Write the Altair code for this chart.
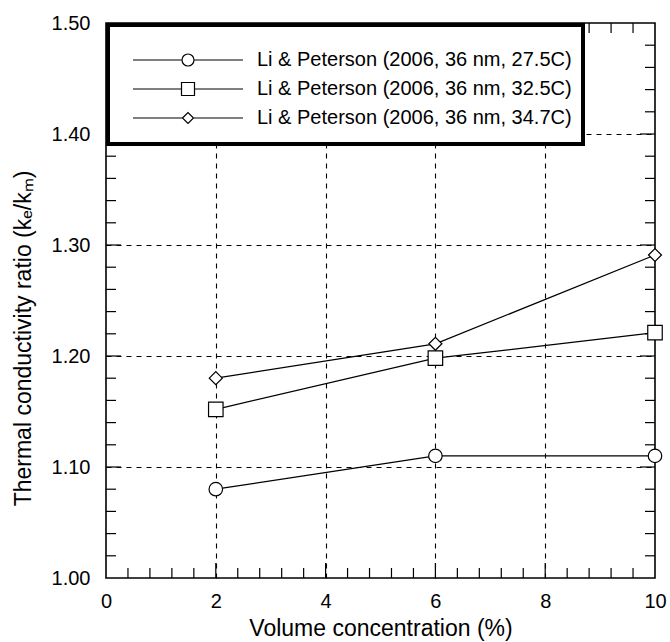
import altair as alt
import pandas as pd

# ---- data ----
conc = [2, 6, 10]
series_names = [
    "Li & Peterson (2006, 36 nm, 27.5C)",
    "Li & Peterson (2006, 36 nm, 32.5C)",
    "Li & Peterson (2006, 36 nm, 34.7C)",
]
ratio_275 = [1.08, 1.11, 1.11]
ratio_325 = [1.152, 1.198, 1.221]
ratio_347 = [1.18, 1.211, 1.291]

x_labels = [0, 2, 4, 6, 8, 10]
y_labels = [1.00, 1.10, 1.20, 1.30, 1.40, 1.50]
x_major_ticks = [2, 4, 6, 8]
x_minor_ticks = [0.4, 0.8, 1.2, 1.6, 2.4, 2.8, 3.2, 3.6, 4.4, 4.8, 5.2, 5.6,
                 6.4, 6.8, 7.2, 7.6, 8.4, 8.8, 9.2, 9.6]
y_major_ticks = [1.10, 1.20, 1.30, 1.40]
y_minor_ticks = [1.02, 1.04, 1.06, 1.08, 1.12, 1.14, 1.16, 1.18, 1.22, 1.24,
                 1.26, 1.28, 1.32, 1.34, 1.36, 1.38, 1.42, 1.44, 1.46, 1.48]

rows = []
for name, vals in zip(series_names, [ratio_275, ratio_325, ratio_347]):
    for c, v in zip(conc, vals):
        rows.append({"series": name, "conc": c, "ratio": v})
df = pd.DataFrame(rows)

W, H = 549, 555
FONT = "Liberation Sans"
MAJ, MIN = 15, 10

xs = alt.Scale(domain=[0, 10], nice=False, zero=False)
ys = alt.Scale(domain=[1.0, 1.5], nice=False, zero=False)

# marker shapes (unit paths, scaled by the mark size)
marker_paths = [
    "M1.35,0A1.35,1.35,0,1,1,-1.35,0A1.35,1.35,0,1,1,1.35,0Z",
    "M-1.45,-1.45L1.45,-1.45L1.45,1.45L-1.45,1.45Z",
    "M-1.3,0L0,-1.3L1.3,0L0,1.3Z",
]
legend_paths = [
    "M-11,0L-1.2,0M1.2,0L11,0M1.2,0A1.2,1.2,0,1,1,-1.2,0A1.2,1.2,0,1,1,1.2,0Z",
    "M-11,0L-1.3,0M1.3,0L11,0M-1.3,-1.3L1.3,-1.3L1.3,1.3L-1.3,1.3Z",
    "M-11,0L-1.1,0M1.1,0L11,0M-1.1,0L0,-1.1L1.1,0L0,1.1Z",
]

x_axis = alt.Axis(values=x_labels, format="d", title="Volume concentration (%)",
                  grid=True, gridDash=[5, 5], gridColor="black", gridWidth=1.1,
                  gridOpacity=alt.condition("datum.value == 0 || datum.value == 10",
                                            alt.value(0), alt.value(1)),
                  ticks=False, domain=False, labelFlush=False,
                  labelOverlap=False, labelFont=FONT, labelFontSize=20,
                  labelColor="black", labelPadding=13, titleFont=FONT,
                  titleFontSize=23, titleFontWeight="normal", titleColor="black",
                  titlePadding=6)
y_axis = alt.Axis(values=y_labels, format=".2f",
                  title="Thermal conductivity ratio (kₑ/kₘ)",
                  grid=True, gridDash=[5, 5], gridColor="black", gridWidth=1.1,
                  gridOpacity=alt.condition("datum.value <= 1.0 || datum.value >= 1.5",
                                            alt.value(0), alt.value(1)),
                  ticks=False, domain=False, labelFlush=False,
                  labelOverlap=False, labelFont=FONT, labelFontSize=20,
                  labelColor="black", labelPadding=16, titleFont=FONT,
                  titleFontSize=23, titleFontWeight="normal", titleColor="black",
                  titlePadding=16, titleY=315)


def xticks(vals, y0, y1):
    return alt.Chart(pd.DataFrame({"v": vals})).mark_rule(
        color="black", strokeWidth=1.2
    ).encode(x=alt.X("v:Q", scale=xs, axis=x_axis), y=alt.value(y0), y2=alt.value(y1))


def yticks(vals, x0, x1):
    return alt.Chart(pd.DataFrame({"v": vals})).mark_rule(
        color="black", strokeWidth=1.2
    ).encode(y=alt.Y("v:Q", scale=ys, axis=y_axis), x=alt.value(x0), x2=alt.value(x1))


tick_layers = [
    xticks(x_major_ticks, H, H - MAJ), xticks(x_minor_ticks, H, H - MIN),
    xticks(x_major_ticks, 0, MAJ), xticks(x_minor_ticks, 0, MIN),
    yticks(y_major_ticks, 0, MAJ), yticks(y_minor_ticks, 0, MIN),
    yticks(y_major_ticks, W, W - MAJ), yticks(y_minor_ticks, W, W - MIN),
]

lines = alt.Chart(df).mark_line(color="black", strokeWidth=1.3).encode(
    x=alt.X("conc:Q", scale=xs, axis=x_axis),
    y=alt.Y("ratio:Q", scale=ys, axis=y_axis),
    detail="series:N",
)

points = alt.Chart(df).mark_point(
    filled=True, fill="white", stroke="black", strokeWidth=1.2, size=100, opacity=1
).encode(
    x=alt.X("conc:Q", scale=xs, axis=x_axis),
    y=alt.Y("ratio:Q", scale=ys, axis=y_axis),
    shape=alt.Shape("series:N", scale=alt.Scale(domain=series_names, range=marker_paths),
                    legend=None),
)

legend_box = alt.Chart(pd.DataFrame({"a": [0]})).mark_rect(
    fill="white", stroke="black", strokeWidth=4
).encode(x=alt.value(2), x2=alt.value(477), y=alt.value(2), y2=alt.value(121))

legend_src = alt.Chart(df).mark_point(size=100, opacity=0).encode(
    x=alt.X("conc:Q", scale=xs, axis=x_axis),
    y=alt.Y("ratio:Q", scale=ys, axis=y_axis),
    shape=alt.Shape(
        "series:N",
        scale=alt.Scale(domain=series_names, range=legend_paths),
        legend=alt.Legend(
            title=None, orient="none", legendX=72, legendY=27, padding=0,
            labelFont=FONT, labelFontSize=20, labelColor="black", labelLimit=0,
            labelOffset=59, rowPadding=9, symbolSize=100, symbolStrokeWidth=1.2,
            symbolStrokeColor="black", symbolFillColor="white", symbolOpacity=1,
        ),
    ),
)

chart = alt.layer(*tick_layers, lines, points, legend_box, legend_src).resolve_scale(
    shape="independent"
).properties(
    width=W, height=H,
    autosize=alt.AutoSizeParams(type="none"),
    padding={"left": 106, "top": 23, "right": 15, "bottom": 64},
).configure(background="white").configure_view(stroke="black", strokeWidth=1.6)

chart.save("out.html", embed_options={"renderer": "svg", "actions": False})
